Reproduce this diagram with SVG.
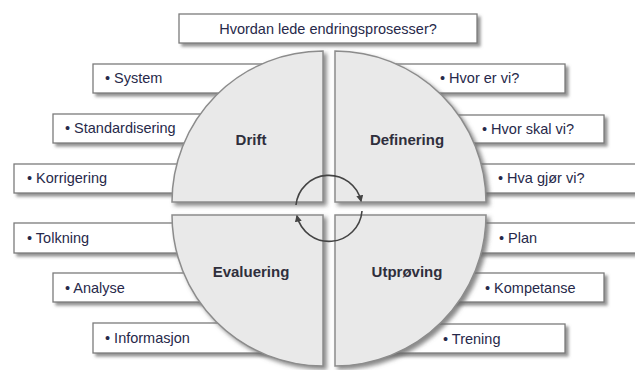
<svg xmlns="http://www.w3.org/2000/svg" width="635" height="370" viewBox="0 0 635 370">
<defs>
<filter id="bshadow" x="-10%" y="-30%" width="120%" height="170%">
<feDropShadow dx="3" dy="3" stdDeviation="1.5" flood-color="#7a7a7a" flood-opacity="0.8"/>
</filter>
<filter id="qshadow" x="-10%" y="-10%" width="125%" height="125%">
<feDropShadow dx="3" dy="3" stdDeviation="2" flood-color="#6a6a6a" flood-opacity="0.8"/>
</filter>
<marker id="ah" viewBox="0 0 10 10" refX="8" refY="5" markerWidth="7" markerHeight="7" orient="auto" markerUnits="userSpaceOnUse">
<path d="M0,0 L10,5 L0,10 Z" fill="#444"/>
</marker>
</defs>
<style>
.box{fill:#fff;stroke:#7c7c7c;stroke-width:1.3;filter:url(#bshadow)}
.t{font-family:"Liberation Sans",Arial,sans-serif;font-size:14.5px;fill:#27294a}
.q{fill:#e9e9e9;stroke:#8c8c8c;stroke-width:1.5;filter:url(#qshadow)}
.ql{font-family:"Liberation Sans",Arial,sans-serif;font-size:15px;font-weight:bold;fill:#2f2f3c;text-anchor:middle}
.arc{fill:none;stroke:#444;stroke-width:1.6;marker-end:url(#ah)}
</style>
<rect width="635" height="370" fill="#fff"/>

<g id="title">
<rect class="box" x="179" y="14" width="298" height="29"/>
<text class="t" x="328" y="34" text-anchor="middle">Hvordan lede endringsprosesser?</text>
</g>

<g id="system"><rect class="box" x="93" y="64" width="217" height="29"/><text class="t" x="105" y="83">• System</text></g>
<g id="standardisering"><rect class="box" x="53" y="114" width="250" height="29"/><text class="t" x="65" y="133">• Standardisering</text></g>
<g id="korrigering"><rect class="box" x="14" y="164" width="290" height="29"/><text class="t" x="27" y="183">• Korrigering</text></g>
<g id="tolkning"><rect class="box" x="14" y="223" width="290" height="30"/><text class="t" x="27" y="243">• Tolkning</text></g>
<g id="analyse"><rect class="box" x="53" y="273" width="250" height="29"/><text class="t" x="65" y="293">• Analyse</text></g>
<g id="informasjon"><rect class="box" x="93" y="323" width="217" height="30"/><text class="t" x="105" y="343">• Informasjon</text></g>

<g id="hvor-er-vi"><rect class="box" x="350" y="64" width="215" height="29"/><text class="t" x="440" y="83">• Hvor er vi?</text></g>
<g id="hvor-skal-vi"><rect class="box" x="350" y="115" width="254" height="28"/><text class="t" x="482" y="134">• Hvor skal vi?</text></g>
<g id="hva-gjor-vi"><rect class="box" x="350" y="164" width="300" height="29"/><text class="t" x="498" y="183">• Hva gjør vi?</text></g>
<g id="plan"><rect class="box" x="350" y="223" width="300" height="30"/><text class="t" x="499" y="243">• Plan</text></g>
<g id="kompetanse"><rect class="box" x="350" y="273" width="254" height="29"/><text class="t" x="485" y="293">• Kompetanse</text></g>
<g id="trening"><rect class="box" x="350" y="324" width="215" height="29"/><text class="t" x="443" y="344">• Trening</text></g>

<g id="drift"><path class="q" d="M323,202 L323,51 A151,151 0 0 0 172,202 Z"/><text class="ql" x="251" y="145">Drift</text></g>
<g id="definering"><path class="q" d="M335,202 L335,51 A151,151 0 0 1 486,202 Z"/><text class="ql" x="407" y="145">Definering</text></g>
<g id="evaluering"><path class="q" d="M323,215 L172,215 A151,151 0 0 0 323,366 Z"/><text class="ql" x="251" y="277">Evaluering</text></g>
<g id="utproving"><path class="q" d="M335,215 L486,215 A151,151 0 0 1 335,366 Z"/><text class="ql" x="407" y="277">Utprøving</text></g>

<g id="connectors">
<path class="arc" d="M296,205 A33,33 0 0 1 361,201"/>
<path class="arc" d="M362,211 A33,33 0 0 1 297,216"/>
</g>
</svg>
